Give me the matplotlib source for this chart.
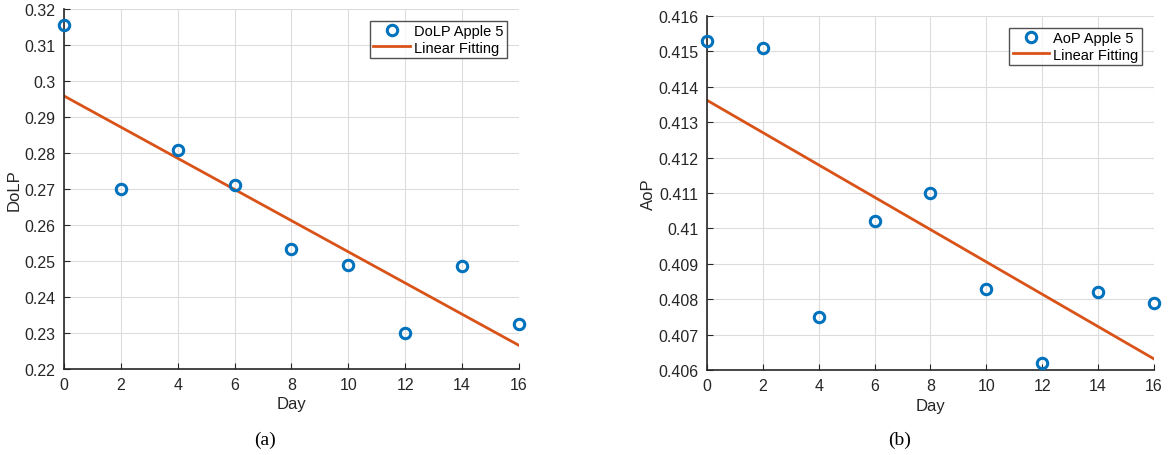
import numpy as np
import matplotlib
matplotlib.use("Agg")
import matplotlib.pyplot as plt

plt.rcParams['font.family'] = ['Liberation Sans', 'DejaVu Sans']

days = [0, 2, 4, 6, 8, 10, 12, 14, 16]
dolp = [0.3155, 0.2700, 0.2808, 0.2712, 0.2532, 0.2490, 0.2300, 0.2487, 0.2325]
aop = [0.4153, 0.4151, 0.4075, 0.4102, 0.4110, 0.4083, 0.4062, 0.4082, 0.4079]

dolp_ticks = [0.22, 0.23, 0.24, 0.25, 0.26, 0.27, 0.28, 0.29, 0.3, 0.31, 0.32]
aop_ticks = [0.406, 0.407, 0.408, 0.409, 0.41, 0.411, 0.412, 0.413, 0.414, 0.415, 0.416]

BLUE = '#0072BD'
ORANGE = '#D95319'
AX = '#262626'

fig = plt.figure(figsize=(11.68, 4.56), dpi=100)
ax1 = fig.add_axes([0.0548, 0.1886, 0.3895, 0.7894])
ax2 = fig.add_axes([0.6053, 0.1864, 0.3827, 0.7763])


def panel(ax, y, ticks, ylabel, name, caption, cx):
    x = np.array(days, dtype=float)
    y = np.array(y)
    k, b = np.polyfit(x, y, 1)
    ax.plot(x, y, 'o', mfc='none', mec=BLUE, mew=2.2, ms=7.5, label=name, zorder=3,
            clip_on=False)
    ax.plot([0, 16], [b, b + 16 * k], color=ORANGE, lw=2, label='Linear Fitting', zorder=2)
    ax.set_xlim(0, 16)
    ax.set_ylim(ticks[0], ticks[-1])
    ax.set_xticks(range(0, 17, 2))
    ax.set_yticks(ticks)
    ax.set_yticklabels([('%g' % t) for t in ticks])
    ax.grid(True, color='#dcdcdc', lw=0.8)
    ax.set_axisbelow(True)
    for s in ['top', 'right']:
        ax.spines[s].set_visible(False)
    for s in ['left', 'bottom']:
        ax.spines[s].set_color(AX)
        ax.spines[s].set_linewidth(1.2)
    ax.tick_params(direction='in', length=4, colors=AX, labelsize=11.5, pad=6)
    ax.set_xlabel('Day', fontsize=12, color=AX, labelpad=3)
    ax.set_ylabel(ylabel, fontsize=12, color=AX, labelpad=2)
    leg = ax.legend(loc='upper right', fontsize=10.5, frameon=True, fancybox=False,
                    edgecolor=AX, borderpad=0.25, handlelength=2.5, handletextpad=0.3,
                    labelspacing=0.15, borderaxespad=0.8)
    leg.get_frame().set_linewidth(1.0)
    fig.text(cx, 1 - 440 / 456, caption, family='Liberation Serif', fontsize=14,
             ha='center', va='center', color='black')


panel(ax1, dolp, dolp_ticks, 'DoLP', 'DoLP Apple 5', '(a)', 265 / 1168)
panel(ax2, aop, aop_ticks, 'AoP', 'AoP Apple 5', '(b)', 900 / 1168)

fig.savefig('out.png', dpi=100)
